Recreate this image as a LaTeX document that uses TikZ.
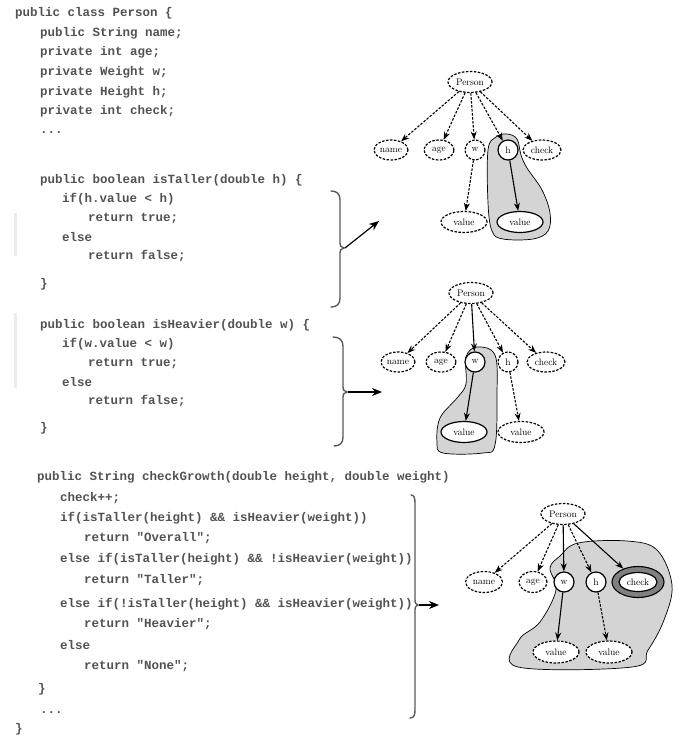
\documentclass[tikz,border=0pt]{standalone}
\usepackage{fontspec}
\usetikzlibrary{shapes.geometric,arrows.meta}
\newfontfamily\codefont{Liberation Mono}
\tikzset{
  code/.style={anchor=west, inner sep=0pt, text=black!68,
    font=\codefont\bfseries\fontsize{12.5}{14}\selectfont},
  fld/.style={ellipse, draw, fill=white, inner sep=0pt, line width=1.2pt,
    font=\fontsize{9.5}{10}\selectfont},
  dsh/.style={dash pattern=on 2.5pt off 1.5pt},
  arr/.style={-{Stealth[length=8pt,width=6pt]}, line width=1.1pt},
  bracearr/.style={-{Stealth[length=10pt,width=8pt]}, line width=1.2pt},
  curly/.style={line width=1.4pt, draw=black!65, line cap=round},
  blob/.style={fill=black!17, draw=black, line width=0.7pt},
  margin/.style={draw=black!7, line width=3pt},
}
\begin{document}
\begin{tikzpicture}[x=1pt,y=-1pt]
\useasboundingbox (0,0) rectangle (686,735);

% faint margin bars beside the two short methods
\draw[margin] (15,213) -- (15,256);
\draw[margin] (15,313) -- (15,388);

% ---------------- source code ----------------
\node[code] (c01) at (15,13)  {public class Person \{};
\node[code] (c02) at (40,33)  {public String name;};
\node[code] (c03) at (40,52)  {private int age;};
\node[code] (c04) at (40,72)  {private Weight w;};
\node[code] (c05) at (40,92)  {private Height h;};
\node[code] (c06) at (40,111) {private int check;};
\node[code] (c07) at (40,133) {...};

\node[code] (c08) at (40,180) {public boolean isTaller(double h) \{};
\node[code] (c09) at (62,199) {if(h.value < h)};
\node[code] (c10) at (88,218) {return true;};
\node[code] (c11) at (62,237) {else};
\node[code] (c12) at (88,256) {return false;};
\node[code] (c13) at (40,284) {\}};

\node[code] (c14) at (40,325) {public boolean isHeavier(double w) \{};
\node[code] (c15) at (62,344) {if(w.value < w)};
\node[code] (c16) at (88,363) {return true;};
\node[code] (c17) at (62,382) {else};
\node[code] (c18) at (88,401) {return false;};
\node[code] (c19) at (40,428) {\}};

\node[code] (c20) at (37,477) {public String checkGrowth(double height, double weight)};
\node[code] (c21) at (60,498) {check++;};
\node[code] (c22) at (60,518) {if(isTaller(height) \&\& isHeavier(weight))};
\node[code] (c23) at (84,538) {return "Overall";};
\node[code] (c24) at (60,559) {else if(isTaller(height) \&\& !isHeavier(weight))};
\node[code] (c25) at (84,580) {return "Taller";};
\node[code] (c26) at (60,604) {else if(!isTaller(height) \&\& isHeavier(weight))};
\node[code] (c27) at (84,624) {return "Heavier";};
\node[code] (c28) at (60,645) {else};
\node[code] (c29) at (84,666) {return "None";};
\node[code] (c30) at (38,689) {\}};
\node[code] (c31) at (40,713) {...};
\node[code] (c32) at (15,729) {\}};

% ---------------- braces with arrows ----------------
\draw[curly] (331,191) .. controls (337,191) and (340,194) .. (340,200) -- (340,243)
  .. controls (340,246) .. (344,248) .. controls (340,250) .. (340,253) -- (340,298)
  .. controls (340,304) and (337,307) .. (331,307);
\coordinate (b1) at (345,248);
\coordinate (b1e) at (379,221);
\draw[bracearr] (b1) -- (b1e);

\draw[curly] (333,337) .. controls (339,337) and (343,340) .. (343,346) -- (343,387)
  .. controls (343,390) .. (347,392) .. controls (343,394) .. (343,397) -- (343,437)
  .. controls (343,443) and (340,446) .. (334,446);
\coordinate (b2) at (348,392);
\coordinate (b2e) at (382,392);
\draw[bracearr] (b2) -- (b2e);

\draw[curly] (411,495) .. controls (414,495) and (415,498) .. (415,503) -- (415,600)
  .. controls (415,603) .. (418,605) .. controls (415,607) .. (415,610) -- (415,710)
  .. controls (415,715) and (414,718) .. (410,718);
\coordinate (b3) at (419,605);
\coordinate (b3e) at (439,605);
\draw[bracearr] (b3) -- (b3e);

% ---------------- tree 1: isTaller ----------------
\draw[blob] plot[smooth cycle, tension=0.6] coordinates {
  (507,134) (517,139) (521,155) (527,168) (542,190) (550,213) (548,231)
  (533,239) (503,239) (492,231) (488,203) (488,150) (496,137)};
\node[fld, dsh, minimum width=44pt, minimum height=21pt] (p1) at (470,82) {Person};
\node[fld, dsh, minimum width=34pt, minimum height=20pt] (n1) at (391,150) {name};
\node[fld, dsh, minimum width=30pt, minimum height=20pt] (a1) at (439,150) {age};
\node[fld, dsh, minimum width=20pt, minimum height=20pt] (w1) at (475,150) {w};
\node[fld, minimum width=20pt, minimum height=20pt] (h1) at (508,150) {h};
\node[fld, dsh, minimum width=38pt, minimum height=20pt] (k1) at (542,150) {check};
\node[fld, dsh, minimum width=46pt, minimum height=21pt] (wv1) at (464,222) {value};
\node[fld, minimum width=46pt, minimum height=21pt] (hv1) at (520,222) {value};
\draw[arr, dsh] (p1) -- (n1);
\draw[arr, dsh] (p1) -- (a1);
\draw[arr, dsh] (p1) -- (w1);
\draw[arr, dsh] (p1) -- (h1);
\draw[arr, dsh] (p1) -- (k1);
\draw[arr, dsh] (w1) -- (wv1);
\draw[arr] (h1) -- (hv1);

% ---------------- tree 2: isHeavier ----------------
\draw[blob] plot[smooth cycle, tension=0.6] coordinates {
  (477,347) (495,355) (497,395) (495,445) (483,453) (443,453) (437,442)
  (440,418) (457,398) (466,384) (466,357)};
\node[fld, dsh, minimum width=44pt, minimum height=21pt] (p2) at (471,293) {Person};
\node[fld, dsh, minimum width=34pt, minimum height=20pt] (n2) at (398,362) {name};
\node[fld, dsh, minimum width=30pt, minimum height=20pt] (a2) at (441,362) {age};
\node[fld, minimum width=20pt, minimum height=20pt] (w2) at (475,362) {w};
\node[fld, dsh, minimum width=20pt, minimum height=20pt] (h2) at (508,362) {h};
\node[fld, dsh, minimum width=38pt, minimum height=20pt] (k2) at (546,362) {check};
\node[fld, minimum width=46pt, minimum height=21pt] (wv2) at (464,432) {value};
\node[fld, dsh, minimum width=46pt, minimum height=21pt] (hv2) at (521,432) {value};
\draw[arr, dsh] (p2) -- (n2);
\draw[arr, dsh] (p2) -- (a2);
\draw[arr] (p2) -- (w2);
\draw[arr, dsh] (p2) -- (h2);
\draw[arr, dsh] (p2) -- (k2);
\draw[arr] (w2) -- (wv2);
\draw[arr, dsh] (h2) -- (hv2);

% ---------------- tree 3: checkGrowth ----------------
\draw[blob] plot[smooth cycle, tension=0.6] coordinates {
  (560,556) (578,543) (627,541) (657,550) (672,585) (664,620) (648,650)
  (632,667) (518,667) (519,640) (540,622) (556,590) (550,568)};
\node[fld, dsh, minimum width=44pt, minimum height=21pt] (p3) at (563,514) {Person};
\node[fld, dsh, minimum width=37pt, minimum height=21pt] (n3) at (484,582) {name};
\node[fld, dsh, minimum width=28pt, minimum height=21pt] (a3) at (533,582) {age};
\node[fld, minimum width=20pt, minimum height=20pt] (w3) at (564,582) {w};
\node[fld, minimum width=20pt, minimum height=20pt] (h3) at (596,582) {h};
\node[ellipse, draw, fill=black!50, line width=1.1pt, minimum width=52pt,
      minimum height=31pt, inner sep=0pt] (kr3) at (638,582) {};
\node[fld, minimum width=38pt, minimum height=19pt] (k3) at (638,582) {check};
\node[fld, dsh, minimum width=46pt, minimum height=22pt] (wv3) at (556,652) {value};
\node[fld, dsh, minimum width=46pt, minimum height=22pt] (hv3) at (609,652) {value};
\draw[arr, dsh] (p3) -- (n3);
\draw[arr, dsh] (p3) -- (a3);
\draw[arr] (p3) -- (w3);
\draw[arr, dsh] (p3) -- (h3);
\draw[arr] (p3) -- (kr3);
\draw[arr] (w3) -- (wv3);
\draw[arr, dsh] (h3) -- (hv3);
\end{tikzpicture}
\end{document}
